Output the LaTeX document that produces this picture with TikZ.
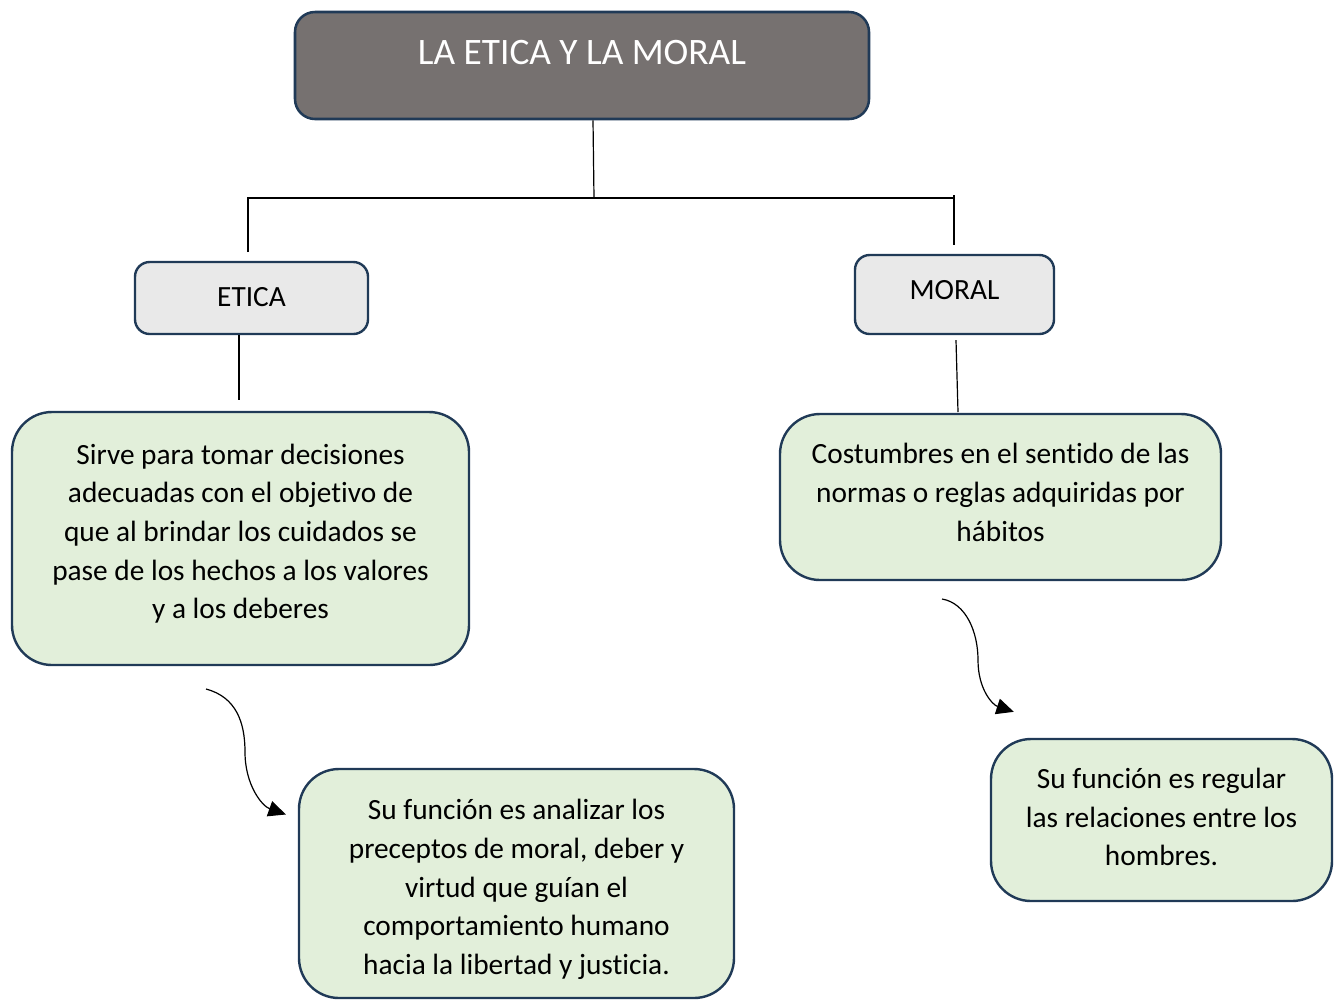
\documentclass[tikz,border=0pt]{standalone}
\usepackage{fontspec}
\setmainfont[Ligatures=NoCommon]{Carlito}
\usetikzlibrary{arrows.meta,calc}
\definecolor{titlefill}{HTML}{767170}
\definecolor{edge}{HTML}{203A57}
\definecolor{greenfill}{HTML}{E2EFDA}
\definecolor{grayfill}{HTML}{E9E9E9}
\tikzset{
  titlebox/.style={draw=edge, line width=1.9pt, fill=titlefill, rounded corners=15pt, inner sep=0pt},
  titletext/.style={text=white, font=\fontsize{28pt}{33pt}\selectfont, inner sep=0pt},
  headbox/.style={draw=edge, line width=1.8pt, fill=grayfill, rounded corners=11pt, inner sep=0pt},
  headtext/.style={inner sep=0pt, font=\fontsize{22pt}{26pt}\selectfont},
  descbox/.style={draw=edge, line width=1.8pt, fill=greenfill, rounded corners=30pt, inner sep=0pt},
  desctext/.style={inner sep=0pt, align=center, font=\fontsize{22pt}{29pt}\selectfont},
  conn/.style={draw=black, line width=0.9pt},
  curvearrow/.style={draw=black, line width=0.9pt, -{Triangle[length=13pt,width=12pt]}}
}
\begin{document}
\begin{tikzpicture}[x=0.75pt,y=-0.75pt]
\useasboundingbox (0,0) rectangle (1335,1001);
% title
\node[titlebox, minimum width=574*0.75pt, minimum height=107*0.75pt] (title) at (582,65.5) {};
\node[titletext] (titlelabel) at (582,53) {LA ETICA Y LA MORAL};
% heads
\node[headbox, minimum width=233*0.75pt, minimum height=72*0.75pt] (etica) at (251.5,298) {};
\node[headtext] (eticalabel) at (251.5,297) {ETICA};
\node[headbox, minimum width=199*0.75pt, minimum height=79*0.75pt] (moral) at (954.5,294.5) {};
\node[headtext] (morallabel) at (954.5,290.5) {MORAL};
% descriptions
\node[descbox, minimum width=457*0.75pt, minimum height=253*0.75pt] (eticadesc) at (240.5,538.5) {};
\node[desctext] (eticadesctext) at (240.5,533.5)
  {Sirve para tomar decisiones\\adecuadas con el objetivo de\\que al brindar los cuidados se\\pase de los hechos a los valores\\y a los deberes};
\node[descbox, minimum width=441*0.75pt, minimum height=166*0.75pt] (moraldesc) at (1000.5,497) {};
\node[desctext] (moraldesctext) at (1000.5,492.5)
  {Costumbres en el sentido de las\\normas o reglas adquiridas por\\hábitos};
\node[descbox, minimum width=435*0.75pt, minimum height=229*0.75pt] (eticafun) at (516.5,883.5) {};
\node[desctext] (eticafuntext) at (516.5,889.5)
  {Su función es analizar los\\preceptos de moral, deber y\\virtud que guían el\\comportamiento humano\\hacia la libertad y justicia.};
\node[descbox, minimum width=341*0.75pt, minimum height=162*0.75pt] (moralfun) at (1161.5,820) {};
\node[desctext] (moralfuntext) at (1161.5,817)
  {Su función es regular\\las relaciones entre los\\hombres.};
% tree connectors
\coordinate (jc) at (594,198);
\coordinate (jl) at (248,198);
\coordinate (jr) at (954,198);
\coordinate (jrtop) at (954,195);
\coordinate (etop) at (248,252);
\coordinate (mtop) at (954,245);
\draw[conn] ($(title.south)+(11,0)$) -- (jc);
\draw[conn] (etop) -- (jl) -- (jr);
\draw[conn] (jrtop) -- (mtop);
\coordinate (ebot) at (239,400);
\coordinate (mbot) at (958,412);
\draw[conn] ($(etica.south)+(-12.5,0)$) -- (ebot);
\draw[conn] ($(moral.south)+(1.5,5)$) -- (mbot);
% curved arrows
\coordinate (la) at (206,689);
\coordinate (ra) at (942,599);
\draw[curvearrow] (la) .. controls (236,697) and (245,722) .. (245,752)
  .. controls (245,785) and (262,806) .. ($(eticafun.west)+(-12,-69)$);
\draw[curvearrow] (ra) .. controls (966,603) and (978,632) .. (978,660)
  .. controls (978,690) and (993,705) .. ($(moralfun.north west)+(24,-26)$);
\end{tikzpicture}
\end{document}
